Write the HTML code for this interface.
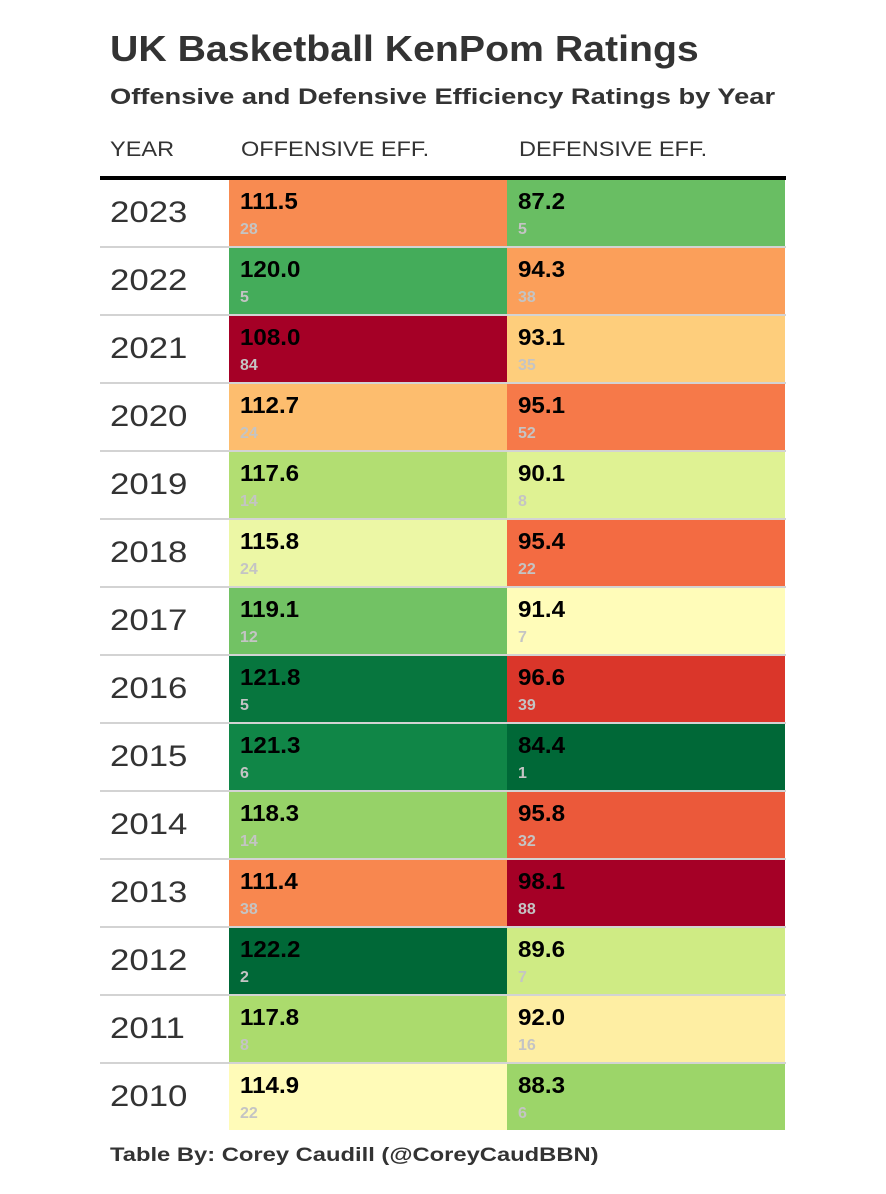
<!DOCTYPE html>
<html><head><meta charset="utf-8"><style>
body{margin:0;background:#fff;width:886px;height:1194px;position:relative;font-family:"Liberation Sans",sans-serif;overflow:hidden}
.abs{position:absolute;transform-origin:0 0;white-space:nowrap}
#title{left:110px;top:28px;font-size:36px;font-weight:bold;color:#333;transform:scaleX(1.09)}
#sub{left:110px;top:84px;font-size:22px;font-weight:bold;color:#333;transform:scaleX(1.24)}
.hdr{top:138px;font-size:21px;color:#333;transform:scaleX(1.12)}
#rule{left:100px;top:176px;width:686px;height:4px;background:#000}
.row{position:absolute;left:100px;width:686px;height:66px;border-bottom:2px solid #d3d3d3}
.row.last{border-bottom:none}
.yr{position:absolute;left:10px;top:16px;font-size:30px;color:#333;transform:scaleX(1.16);transform-origin:0 0}
.cell{position:absolute;top:0;height:66px}
.v{position:absolute;left:11px;top:8px;font-size:23px;font-weight:bold;color:#000;transform:scaleX(1.05);transform-origin:0 0}
.r{position:absolute;left:11px;top:41px;font-size:16px;font-weight:bold;color:#c4c4c4}
#foot{left:110px;top:1145px;font-size:19px;font-weight:bold;color:#333;transform:scaleX(1.25)}
</style></head><body>
<div class="abs" id="title">UK Basketball KenPom Ratings</div>
<div class="abs" id="sub">Offensive and Defensive Efficiency Ratings by Year</div>
<div class="abs hdr" style="left:110px">YEAR</div>
<div class="abs hdr" style="left:241px">OFFENSIVE EFF.</div>
<div class="abs hdr" style="left:519px">DEFENSIVE EFF.</div>
<div class="abs" id="rule"></div>
<div id="table"></div>
<div class="abs" id="foot">Table By: Corey Caudill (@CoreyCaudBBN)</div>
<script>
const years=[2023,2022,2021,2020,2019,2018,2017,2016,2015,2014,2013,2012,2011,2010];
const offEff=[111.5,120.0,108.0,112.7,117.6,115.8,119.1,121.8,121.3,118.3,111.4,122.2,117.8,114.9];
const offRank=[28,5,84,24,14,24,12,5,6,14,38,2,8,22];
const defEff=[87.2,94.3,93.1,95.1,90.1,95.4,91.4,96.6,84.4,95.8,98.1,89.6,92.0,88.3];
const defRank=[5,38,35,52,8,22,7,39,1,32,88,7,16,6];
const stops=["#a50026","#d73027","#f46d43","#fdae61","#fee08b","#ffffbf","#d9ef8b","#a6d96a","#66bd63","#1a9850","#006837"];
function hex(h){return[1,3,5].map(i=>parseInt(h.substr(i,2),16));}
function rdylgn(t){t=Math.max(0,Math.min(1,t));const p=t*(stops.length-1),i=Math.min(Math.floor(p),stops.length-2),f=p-i;const a=hex(stops[i]),b=hex(stops[i+1]);return"rgb("+a.map((x,k)=>Math.round(x+(b[k]-x)*f)).join(",")+")";}
const oMin=Math.min(...offEff),oMax=Math.max(...offEff),dMin=Math.min(...defEff),dMax=Math.max(...defEff);
const tbl=document.getElementById('table');
years.forEach((y,i)=>{
  const row=document.createElement('div');row.className='row'+(i===years.length-1?' last':'');row.style.top=(180+i*68)+'px';
  
  
  const yr=document.createElement('div');yr.className='yr';yr.textContent=y;
  
  
  row.appendChild(yr);
  const mk=(left,val,rank,t,nm)=>{
    const c=document.createElement('div');c.className='cell';c.style.left=left+'px';c.style.width='278px';c.style.background=rdylgn(t);
    
    
    const v=document.createElement('div');v.className='v';v.textContent=val.toFixed(1);
    
    
    const r=document.createElement('div');r.className='r';r.textContent=rank;
    
    
    c.appendChild(v);c.appendChild(r);row.appendChild(c);
  };
  mk(129,offEff[i],offRank[i],(offEff[i]-oMin)/(oMax-oMin),'offensive-cell');
  mk(407,defEff[i],defRank[i],(dMax-defEff[i])/(dMax-dMin),'defensive-cell');
  tbl.appendChild(row);
});
</script>
</body></html>
